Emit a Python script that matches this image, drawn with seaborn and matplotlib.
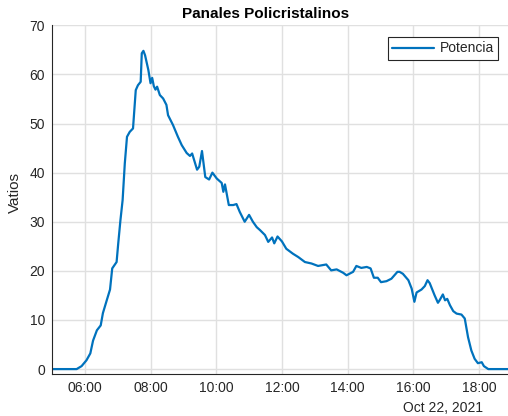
import matplotlib
matplotlib.use("Agg")
import matplotlib.pyplot as plt
import matplotlib.dates as mdates
import pandas as pd
import seaborn as sns

# Power readings for the day (local time, W)
day = "2021-10-22"
times = ["05:00", "05:45", "05:54", "06:03", "06:10", "06:15", "06:22", "06:29", "06:33", "06:40",
         "06:46", "06:50", "06:58", "07:01", "07:05", "07:09", "07:13", "07:17", "07:22", "07:28",
         "07:33", "07:37", "07:42", "07:44", "07:47", "07:50", "07:56", "08:00", "08:03", "08:06",
         "08:09", "08:12", "08:17", "08:23", "08:29", "08:32", "08:41", "08:50", "08:57", "09:06",
         "09:12", "09:16", "09:25", "09:29", "09:34", "09:40", "09:47", "09:53", "10:01", "10:10",
         "10:13", "10:16", "10:23", "10:31", "10:37", "10:43", "10:52", "11:00", "11:07", "11:14",
         "11:20", "11:29", "11:35", "11:42", "11:46", "11:52", "12:00", "12:08", "12:20", "12:30",
         "12:42", "12:54", "13:06", "13:21", "13:30", "13:40", "13:52", "13:58", "14:10", "14:16",
         "14:25", "14:35", "14:42", "14:48", "14:55", "15:01", "15:11", "15:20", "15:31", "15:35",
         "15:41", "15:51", "15:57", "16:02", "16:06", "16:15", "16:21", "16:26", "16:30", "16:39",
         "16:45", "16:48", "16:54", "16:58", "17:02", "17:07", "17:13", "17:19", "17:28", "17:34",
         "17:40", "17:46", "17:52", "17:58", "18:05", "18:09", "18:17", "18:53"]
potencia = [0.0, 0.0, 0.6, 1.8, 3.2, 5.8, 7.9, 8.9, 11.4, 14.0,
            16.2, 20.5, 21.8, 25.6, 30.3, 34.4, 41.9, 47.3, 48.3, 49.0,
            56.8, 57.8, 58.5, 64.3, 64.8, 63.9, 60.9, 58.2, 59.3, 57.6,
            56.9, 57.5, 55.8, 55.1, 53.8, 51.7, 49.7, 47.3, 45.6, 44.0,
            43.4, 43.9, 40.6, 41.2, 44.4, 39.1, 38.6, 40.0, 38.8, 37.9,
            36.1, 37.6, 33.4, 33.4, 33.6, 32.0, 30.0, 31.4, 30.0, 28.9,
            28.3, 27.3, 25.9, 26.8, 25.6, 27.0, 26.0, 24.5, 23.5, 22.8,
            21.8, 21.5, 21.0, 21.3, 20.1, 20.3, 19.6, 19.1, 19.8, 21.0,
            20.6, 20.8, 20.5, 18.6, 18.6, 17.7, 17.9, 18.4, 19.8, 19.8,
            19.4, 18.1, 16.4, 13.7, 15.6, 16.2, 16.9, 18.1, 17.5, 15.0,
            13.5, 14.0, 15.2, 14.0, 14.3, 13.0, 11.8, 11.3, 11.1, 10.3,
            6.5, 3.8, 2.1, 1.2, 1.4, 0.6, 0.0, 0.0]
x_ticks = ["06:00", "08:00", "10:00", "12:00", "14:00", "16:00", "18:00"]
y_ticks = [0, 10, 20, 30, 40, 50, 60, 70]

df = pd.DataFrame({"Hora": pd.to_datetime([f"{day} {t}" for t in times]),
                   "Potencia": potencia})

sns.set_style("white")
plt.rcParams["font.family"] = ["Liberation Sans", "DejaVu Sans"]

W, H = 508, 416
fig = plt.figure(figsize=(W / 100, H / 100), dpi=100)
ax = fig.add_axes([52 / W, 42 / H, 456 / W, 348.7 / H])

dark = "#262626"
sns.lineplot(data=df, x="Hora", y="Potencia", ax=ax, color="#0072BD",
             linewidth=1.6, label="Potencia")

ax.set_xlim(pd.Timestamp(f"{day} 05:00"), pd.Timestamp(f"{day} 18:53"))
ax.set_ylim(-1, 70)
ax.set_xticks(pd.to_datetime([f"{day} {t}" for t in x_ticks]))
ax.xaxis.set_major_formatter(mdates.DateFormatter("%H:%M"))
ax.set_yticks(y_ticks)

ax.grid(True, color="#e0e0e0", linewidth=1.0)
ax.set_axisbelow(True)
for s in ["top", "right"]:
    ax.spines[s].set_visible(False)
for s in ["left", "bottom"]:
    ax.spines[s].set_color(dark)
    ax.spines[s].set_linewidth(0.8)
ax.tick_params(axis="both", direction="in", length=4, width=0.8, color=dark,
               labelcolor=dark, labelsize=10, pad=5)

ax.set_xlabel("")
ax.set_ylabel("Vatios", fontsize=11, color=dark)
ax.yaxis.set_label_coords(-30 / 456, 0.52)

fig.text(265.7 / W, 1 - 14 / H, "Panales Policristalinos", ha="center", va="center",
         fontsize=11, fontweight="bold", color="black")
fig.text(443 / W, 1 - 408 / H, "Oct 22, 2021", ha="center", va="center",
         fontsize=10, color=dark)

leg = ax.legend(loc="upper right", bbox_to_anchor=(498 / W, 1 - 37.3 / H),
                bbox_transform=fig.transFigure, borderaxespad=0, fancybox=False,
                framealpha=1, edgecolor=dark, fontsize=10, handlelength=3.0,
                handletextpad=0.4, borderpad=0.3)
leg.get_frame().set_linewidth(0.8)

fig.savefig("out.png", dpi=100)
